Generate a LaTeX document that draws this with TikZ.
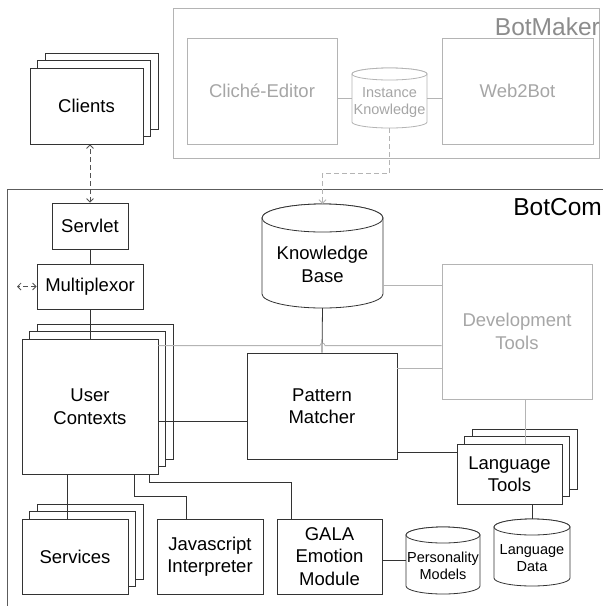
\documentclass[tikz,border=0pt]{standalone}
\usepackage{fontspec}
\setmainfont{Liberation Sans}
\usetikzlibrary{calc,arrows.meta}

\definecolor{ink}{HTML}{333333}
\definecolor{pale}{HTML}{B4B4B4}
\definecolor{paletext}{HTML}{A6A6A6}
\definecolor{titlegray}{HTML}{8C8C8C}

\newcommand\boxfont{\fontsize{18.5}{22.5}\selectfont}
\newcommand\notefont{\fontsize{14.5}{17.5}\selectfont}
\newcommand\headfont{\fontsize{24.5}{28}\selectfont}

\tikzset{
  box/.style={draw=ink, fill=white, line width=0.8pt, inner sep=0pt, align=center, font=\boxfont},
  ghostbox/.style={box, draw=pale, text=paletext},
  frame/.style={draw=#1, line width=0.9pt, inner sep=0pt},
  wire/.style={draw=ink, line width=0.8pt},
  ghostwire/.style={draw=pale, line width=0.8pt},
  drumline/.style={draw=ink, fill=white, line width=0.8pt},
  drumtext/.style={inner sep=0pt, align=center, font=\boxfont},
  barb/.tip={Straight Barb[length=3.5pt,width=7pt]},
  dashlink/.style={draw=ink!85, line width=0.8pt, dash pattern=on 5pt off 3pt},
  ghostdash/.style={draw=pale, line width=0.8pt, dash pattern=on 5pt off 3pt},
}

% three stacked boxes: name, front centre, width, height, text
\newcommand\boxstack[5]{%
  \node[box, minimum width=#3pt, minimum height=#4pt] (#1-2) at ($(#2)+(15,-15)$) {};
  \node[box, minimum width=#3pt, minimum height=#4pt] (#1-1) at ($(#2)+(7.5,-7.5)$) {};
  \node[box, minimum width=#3pt, minimum height=#4pt] (#1) at (#2) {#5};
}

% cylinder: [options] name, cx, cy, width, height, ellipse radius, text
\newcommand\drumshape[8][]{%
  \node[inner sep=0pt, minimum width=#5pt, minimum height=#6pt] (#2) at (#3,#4) {};
  \pgfmathsetmacro\drumL{#3-#5/2}%
  \pgfmathsetmacro\drumR{#3+#5/2}%
  \pgfmathsetmacro\drumT{#4-#6/2+#7}%
  \pgfmathsetmacro\drumB{#4+#6/2-#7}%
  \pgfmathsetmacro\drumRX{#5/2}%
  \pgfmathsetmacro\drumTY{#4+#7/2+1.5}%
  \filldraw[drumline,#1] (\drumL,\drumT) -- (\drumL,\drumB)
     arc[start angle=180,end angle=0,x radius=\drumRX,y radius=#7]
     -- (\drumR,\drumT)
     arc[start angle=0,end angle=-180,x radius=\drumRX,y radius=#7] -- cycle;
  \draw[drumline,#1] (#3,\drumT) ellipse[x radius=\drumRX,y radius=#7];
  \node[drumtext,#1,draw=none,fill=none] (#2-t) at (#3,\drumTY) {#8};
}

\begin{document}
\begin{tikzpicture}[x=1pt,y=-1pt]
\clip (0,0) rectangle (603,606);
\fill[white] (0,0) rectangle (603,606);

% ---------------- BotMaker ----------------
\node[frame=pale, minimum width=426pt, minimum height=150pt] (botmaker) at (386,83) {};
\node[anchor=base east, inner sep=0pt, font=\headfont, text=titlegray] (botmaker-title) at (600,35) {BotMaker};
\node[ghostbox, minimum width=150pt, minimum height=106pt] (cliche) at (262,91) {Cliché-Editor};
\node[ghostbox, minimum width=151pt, minimum height=106pt] (web) at (517.5,91) {Web2Bot};
\drumshape[draw=pale,text=paletext,font=\notefont]{ik}{389.5}{98}{75}{60}{6}{Instance\\Knowledge}
\draw[ghostwire] (ik.west) -- (ik.west -| cliche.east);
\draw[ghostwire] (ik.east) -- (ik.east -| web.west);

% ---------------- BotCom ----------------
\node[frame=ink!80, minimum width=613pt, minimum height=436pt] (botcom) at (313.5,407) {};
\node[anchor=base east, inner sep=0pt, font=\headfont] (botcom-title) at (602,215) {BotCom};

\boxstack{clients}{86.5,106}{113}{76}{Clients}
\node[box, minimum width=76pt, minimum height=46pt] (servlet) at (90,226) {Servlet};
\node[box, minimum width=106pt, minimum height=45pt] (mux) at (90,286.5) {Multiplexor};
\boxstack{uc}{90,406.5}{136}{135}{User\\Contexts}
\drumshape{kb}{322.5}{256}{121}{104}{14}{Knowledge\\Base}
\node[box, minimum width=150pt, minimum height=106pt] (pm) at (322,406) {Pattern\\Matcher};
\node[ghostbox, minimum width=150pt, minimum height=135pt] (dev) at (517,331.5) {Development\\Tools};
\boxstack{lt}{509.5,474}{105}{60}{Language\\Tools}
\drumshape[font=\notefont]{ld}{532}{552.5}{76}{67}{8}{Language\\Data}
\drumshape[font=\notefont]{pmod}{443}{560.5}{74}{67}{8}{Personality\\Models}
\node[box, minimum width=105pt, minimum height=75pt] (gala) at (329.5,556.5) {GALA\\Emotion\\Module};
\node[box, minimum width=106pt, minimum height=75pt] (js) at (210,556.5) {Javascript\\Interpreter};
\boxstack{svc}{75,556.5}{106}{75}{Services}

% ---------------- connectors ----------------
\draw[dashlink, barb-barb] (servlet.north) -- (servlet.north |- clients.south);
\coordinate (outside) at (17,286.5);
\draw[dashlink, barb-barb] (mux.west) -- (outside);
\draw[wire] (servlet.south) -- (mux.north);
\draw[wire] (mux.south) -- (uc.north);

\draw[ghostdash, -barb] (ik.south) -- ++(0,45) -| (kb.north);

\draw[wire] (kb.south) -- (pm.north);
\coordinate (ucdev) at ($(uc.north east)+(0,7)$);
\draw[ghostwire] (ucdev) -- ($(ucdev -| kb.south)+(-2.5,0)$)
   arc[start angle=180,end angle=360,radius=2.5] -- (ucdev -| dev.west);
\coordinate (ucpm) at ($(uc.east)+(0,15)$);
\draw[wire] (ucpm) -- (ucpm -| pm.west);

\coordinate (kbdev) at ($(kb.east)+(0,29)$);
\draw[ghostwire] (kbdev) -- (kbdev -| dev.west);
\coordinate (pmdev) at ($(pm.north east)+(0,16)$);
\draw[ghostwire] (pmdev) -- (pmdev -| dev.west);
\coordinate (devlt) at ($(lt.north)+(15.5,0)$);
\draw[ghostwire] (devlt |- dev.south) -- (devlt);

\coordinate (pmlt) at ($(lt.west)+(0,-22)$);
\draw[wire] (pmlt -| pm.east) -- (pmlt);
\draw[wire] (lt.south -| ld.north) -- (ld.north);
\draw[wire] (gala.east |- pmod.west) -- (pmod.west);

\coordinate (ucsvc) at ($(uc.south west)+(46,0)$);
\draw[wire] (ucsvc) -- (ucsvc |- svc.north);
\coordinate (ucjs) at ($(uc.south west)+(113,0)$);
\coordinate (jsin) at ($(js.north west)+(30,0)$);
\draw[wire] (ucjs) -- ++(0,22) -| (jsin);
\coordinate (ucgala) at ($(uc.south west)+(128,0)$);
\coordinate (galain) at ($(gala.north west)+(15,0)$);
\draw[wire] (ucgala) -- ++(0,8) -| (galain);
\end{tikzpicture}
\end{document}
